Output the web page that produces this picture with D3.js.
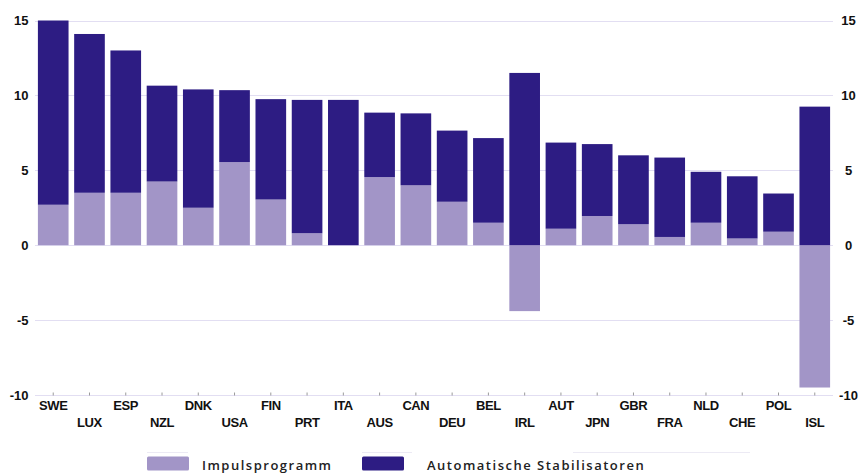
<!DOCTYPE html>
<html>
<head>
<meta charset="utf-8">
<script src="https://cdn.jsdelivr.net/npm/d3@7/dist/d3.min.js"></script>
<style>
  html, body { margin: 0; padding: 0; background: #ffffff; overflow: hidden; }
  svg { display: block; }
</style>
</head>
<body>
<svg id="chart" width="858" height="473"></svg>
<script>
// Fiscal stimulus by country, in % of GDP
const countries = ["SWE","LUX","ESP","NZL","DNK","USA","FIN","PRT","ITA","AUS","CAN",
                   "DEU","BEL","IRL","AUT","JPN","GBR","FRA","NLD","CHE","POL","ISL"];
const impulsprogramm = [2.7, 3.5, 3.5, 4.25, 2.5, 5.55, 3.05, 0.8, 0, 4.55, 4.0,
                        2.9, 1.5, -4.4, 1.1, 1.95, 1.4, 0.55, 1.5, 0.45, 0.9, -9.5];
const stabilisatoren = [12.3, 10.6, 9.5, 6.4, 7.9, 4.8, 6.7, 8.9, 9.7, 4.3, 4.8,
                        4.75, 5.65, 11.5, 5.75, 4.8, 4.6, 5.3, 3.4, 4.15, 2.55, 9.25];
const yTicks = [-10, -5, 0, 5, 10, 15];
const seriesNames = ["Impulsprogramm", "Automatische Stabilisatoren"];
const colors = ["#a295c7", "#2d1c83"];

const svg = d3.select("#chart");
const font = "'Liberation Sans', Arial, sans-serif";

const x = d3.scaleBand().domain(countries).range([35, 833])
  .paddingInner(0.155).paddingOuter(0.08);
const y = d3.scaleLinear().domain([-10, 15]).range([395, 20.5]);

// Gridlines
svg.append("g").selectAll("line").data(yTicks).join("line")
  .attr("x1", 35).attr("x2", 833)
  .attr("y1", d => Math.round(y(d)) + 0.5).attr("y2", d => Math.round(y(d)) + 0.5)
  .attr("stroke", "#e2def2").attr("stroke-width", 1.2);

// Stacks: positive parts stack upward from zero, negative parts go down
const rows = countries.map((c, i) => {
  const a = impulsprogramm[i], b = stabilisatoren[i];
  const segs = [];
  let pos = 0, neg = 0;
  [a, b].forEach((v, k) => {
    if (v >= 0) { segs.push({c, k, y0: pos, y1: pos + v}); pos += v; }
    else { segs.push({c, k, y0: neg + v, y1: neg}); neg += v; }
  });
  return segs;
}).flat();

svg.append("g").selectAll("rect").data(rows).join("rect")
  .attr("x", d => x(d.c))
  .attr("width", x.bandwidth())
  .attr("y", d => y(d.y1))
  .attr("height", d => Math.max(0, y(d.y0) - y(d.y1)))
  .attr("fill", d => colors[d.k]);

// Bottom axis ticks at bar centres
const bottom = svg.append("g").attr("transform", `translate(0,${Math.round(y(-10)) + 0.5})`);
bottom.selectAll("line.tick").data(countries).join("line")
  .attr("class", "tick")
  .attr("x1", d => x(d) + x.bandwidth() / 2).attr("x2", d => x(d) + x.bandwidth() / 2)
  .attr("y1", 0).attr("y2", -3)
  .attr("stroke", "#9a9a9a").attr("stroke-width", 1);

// Country labels, staggered on two rows
svg.append("g").selectAll("text").data(countries).join("text")
  .attr("x", d => x(d) + x.bandwidth() / 2)
  .attr("y", (d, i) => i % 2 === 0 ? 410 : 426.5)
  .attr("text-anchor", "middle")
  .attr("font-family", font).attr("font-weight", "bold").attr("font-size", 13)
  .attr("letter-spacing", "-0.4")
  .attr("fill", "#111")
  .text(d => d);

// Value axes on both sides (plain hyphen for negatives)
const fmt = d => String(d);
svg.append("g").selectAll("text").data(yTicks).join("text")
  .attr("x", 28.5).attr("y", d => y(d) + 4.5)
  .attr("text-anchor", "end")
  .attr("font-family", font).attr("font-weight", "bold").attr("font-size", 13)
  .attr("fill", "#111")
  .text(d => fmt(d));
svg.append("g").selectAll("text").data(yTicks).join("text")
  .attr("x", 848.5).attr("y", d => y(d) + 4.5)
  .attr("text-anchor", "middle")
  .attr("font-family", font).attr("font-weight", "bold").attr("font-size", 13)
  .attr("fill", "#111")
  .text(d => fmt(d));

// Legend
const legend = [
  {name: seriesNames[0], color: colors[0], sx: 147, tx: 202},
  {name: seriesNames[1], color: colors[1], sx: 362, tx: 427}
];
const lg = svg.append("g");
lg.selectAll("line").data([[147, 188], [362, 412], [573, 750]]).join("line")
  .attr("x1", d => d[0]).attr("x2", d => d[1])
  .attr("y1", 452.5).attr("y2", 452.5)
  .attr("stroke", "#eceaf4").attr("stroke-width", 1);
lg.selectAll("rect").data(legend).join("rect")
  .attr("x", d => d.sx).attr("y", 456.5).attr("width", 42).attr("height", 14)
  .attr("rx", 1.5)
  .attr("fill", d => d.color);
lg.selectAll("text").data(legend).join("text")
  .attr("x", d => d.tx).attr("y", 469.5)
  .attr("font-family", "'Open Sans', 'Noto Sans', sans-serif")
  .attr("font-weight", 600).attr("font-size", 13)
  .attr("letter-spacing", "1.5")
  .attr("fill", "#222")
  .text(d => d.name);
</script>
</body>
</html>
